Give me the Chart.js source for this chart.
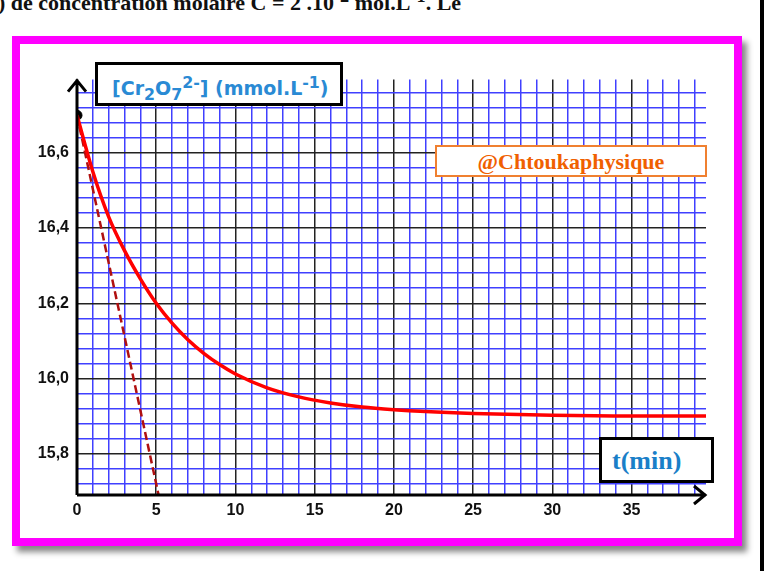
<!DOCTYPE html>
<html><head><meta charset="utf-8">
<script src="https://cdn.jsdelivr.net/npm/chart.js@4"></script>
<style>
body{margin:0;width:780px;height:571px;background:#fff;position:relative;overflow:hidden;font-family:"Liberation Sans",Arial,sans-serif}
#top{position:absolute;left:-2px;top:-14px;font:bold 22px "Liberation Serif",serif;white-space:nowrap;color:#111}
#frame{position:absolute;left:12px;top:36px;width:714px;height:494px;border:8px solid #f0f;box-shadow:5px 6px 6px #888;background:#fff}
#rbar{position:absolute;left:760px;top:0;width:4px;height:571px;background:#000}
#cv{position:absolute;left:20px;top:62px}
.lbl{position:absolute;background:#fff;border:3px solid #000;color:#1a7fc8;font-weight:bold;box-sizing:border-box}
#ylab{left:95px;top:62px;width:248px;height:44px;font:bold 19px "DejaVu Sans",sans-serif;color:#2a8ad4;padding:8px 0 0 14px}
#xlab{left:599px;top:437px;width:115px;height:46px;font:bold 26px "Liberation Serif",serif;padding:6px 0 0 10px}
#wm{position:absolute;left:435px;top:145px;width:272px;height:32px;border:2px solid #f08030;background:#fff;color:#f06000;font:bold 22px "Liberation Serif",serif;text-align:center;line-height:30px;box-sizing:border-box}
</style></head><body>
<div id="top">) de concentration molaire C = 2 .10<sup>-2</sup> mol.L<sup>-1</sup>. Le</div>
<div id="frame"></div>
<div id="rbar"></div>
<canvas id="cv" width="692" height="468" style="width:692px;height:468px"></canvas>
<div class="lbl" id="ylab">[Cr<sub>2</sub>O<sub>7</sub><sup>2-</sup>] (mmol.L<sup>-1</sup>)</div>
<div class="lbl" id="xlab">t(min)</div>
<div id="wm">@Chtoukaphysique</div>
<script>
const tValues=[0,1,2,3,4,5,6,7,8,9,10,12,14,16,18,20,22,25,30,35,40];
const concValues=[16.70,16.55,16.43,16.34,16.265,16.20,16.147,16.103,16.067,16.037,16.012,15.975,15.951,15.935,15.924,15.917,15.912,15.907,15.902,15.90,15.90];
const tangentT=[0,5.2];
const tangentC=[16.70,15.68];
const xTickLabels=[0,5,10,15,20,25,30,35];
const yTickLabels=[15.8,16.0,16.2,16.4,16.6];
const xMin=0,xMax=39.7,yMin=15.69,yMax=16.795;
const xGrid=[];for(let i=0;i<=39;i++)xGrid.push(i);
const yGrid=[];for(let i=393;i<=419;i++)yGrid.push(+(i*0.04).toFixed(2));
const arrows={id:'arrows',afterDraw(c){const g=c.ctx,a=c.chartArea;g.save();g.strokeStyle='#000';g.lineWidth=3;
g.beginPath();g.moveTo(a.left,a.bottom);g.lineTo(a.left,a.top);g.moveTo(a.left-9,a.top+12);g.lineTo(a.left,a.top+1);g.lineTo(a.left+9,a.top+12);
g.moveTo(a.left,a.bottom);g.lineTo(a.right,a.bottom);g.moveTo(a.right-12,a.bottom-9);g.lineTo(a.right-1,a.bottom);g.lineTo(a.right-12,a.bottom+9);g.stroke();g.restore();}};
new Chart(document.getElementById('cv'),{type:'scatter',
data:{datasets:[
{data:tValues.map((t,i)=>({x:t,y:concValues[i]})),showLine:true,borderColor:'#f00',borderWidth:3.5,pointRadius:0,cubicInterpolationMode:'monotone'},
{data:tangentT.map((t,i)=>({x:t,y:tangentC[i]})),showLine:true,borderColor:'#b01010',borderWidth:2.5,borderDash:[8,4],pointRadius:0},
{data:[{x:tValues[0],y:concValues[0]}],pointRadius:5,pointBackgroundColor:'#000',pointBorderColor:'#000'}
]},
options:{animation:false,responsive:false,devicePixelRatio:1,layout:{padding:0},plugins:{legend:{display:false},tooltip:{enabled:false}},
scales:{
x:{type:'linear',min:xMin,max:xMax,afterBuildTicks(s){s.ticks=xGrid.map(v=>({value:v}));},afterFit(s){s.height=35;},
 grid:{color:c=>c.tick&&c.tick.value%5===0?'#222':'#4040ff',lineWidth:1.5,drawTicks:false},border:{display:false},
 ticks:{autoSkip:false,maxRotation:0,padding:6,color:'#111',font:{family:'Liberation Sans',weight:'bold',size:16},callback:v=>xTickLabels.includes(v)?String(v):''}},
y:{type:'linear',min:yMin,max:yMax,afterBuildTicks(s){s.ticks=yGrid.map(v=>({value:v}));},afterFit(s){s.width=57;},
 grid:{color:c=>c.tick&&yTickLabels.some(y=>Math.abs(y-c.tick.value)<1e-6)?'#222':'#4040ff',lineWidth:1.5,drawTicks:false},border:{display:false},
 ticks:{autoSkip:false,padding:8,color:'#111',font:{family:'Liberation Sans',weight:'bold',size:16},callback:v=>{const m=yTickLabels.find(y=>Math.abs(y-v)<1e-6);return m!==undefined?m.toFixed(1).replace('.',','):'';}}}
}},plugins:[arrows]});
</script></body></html>
